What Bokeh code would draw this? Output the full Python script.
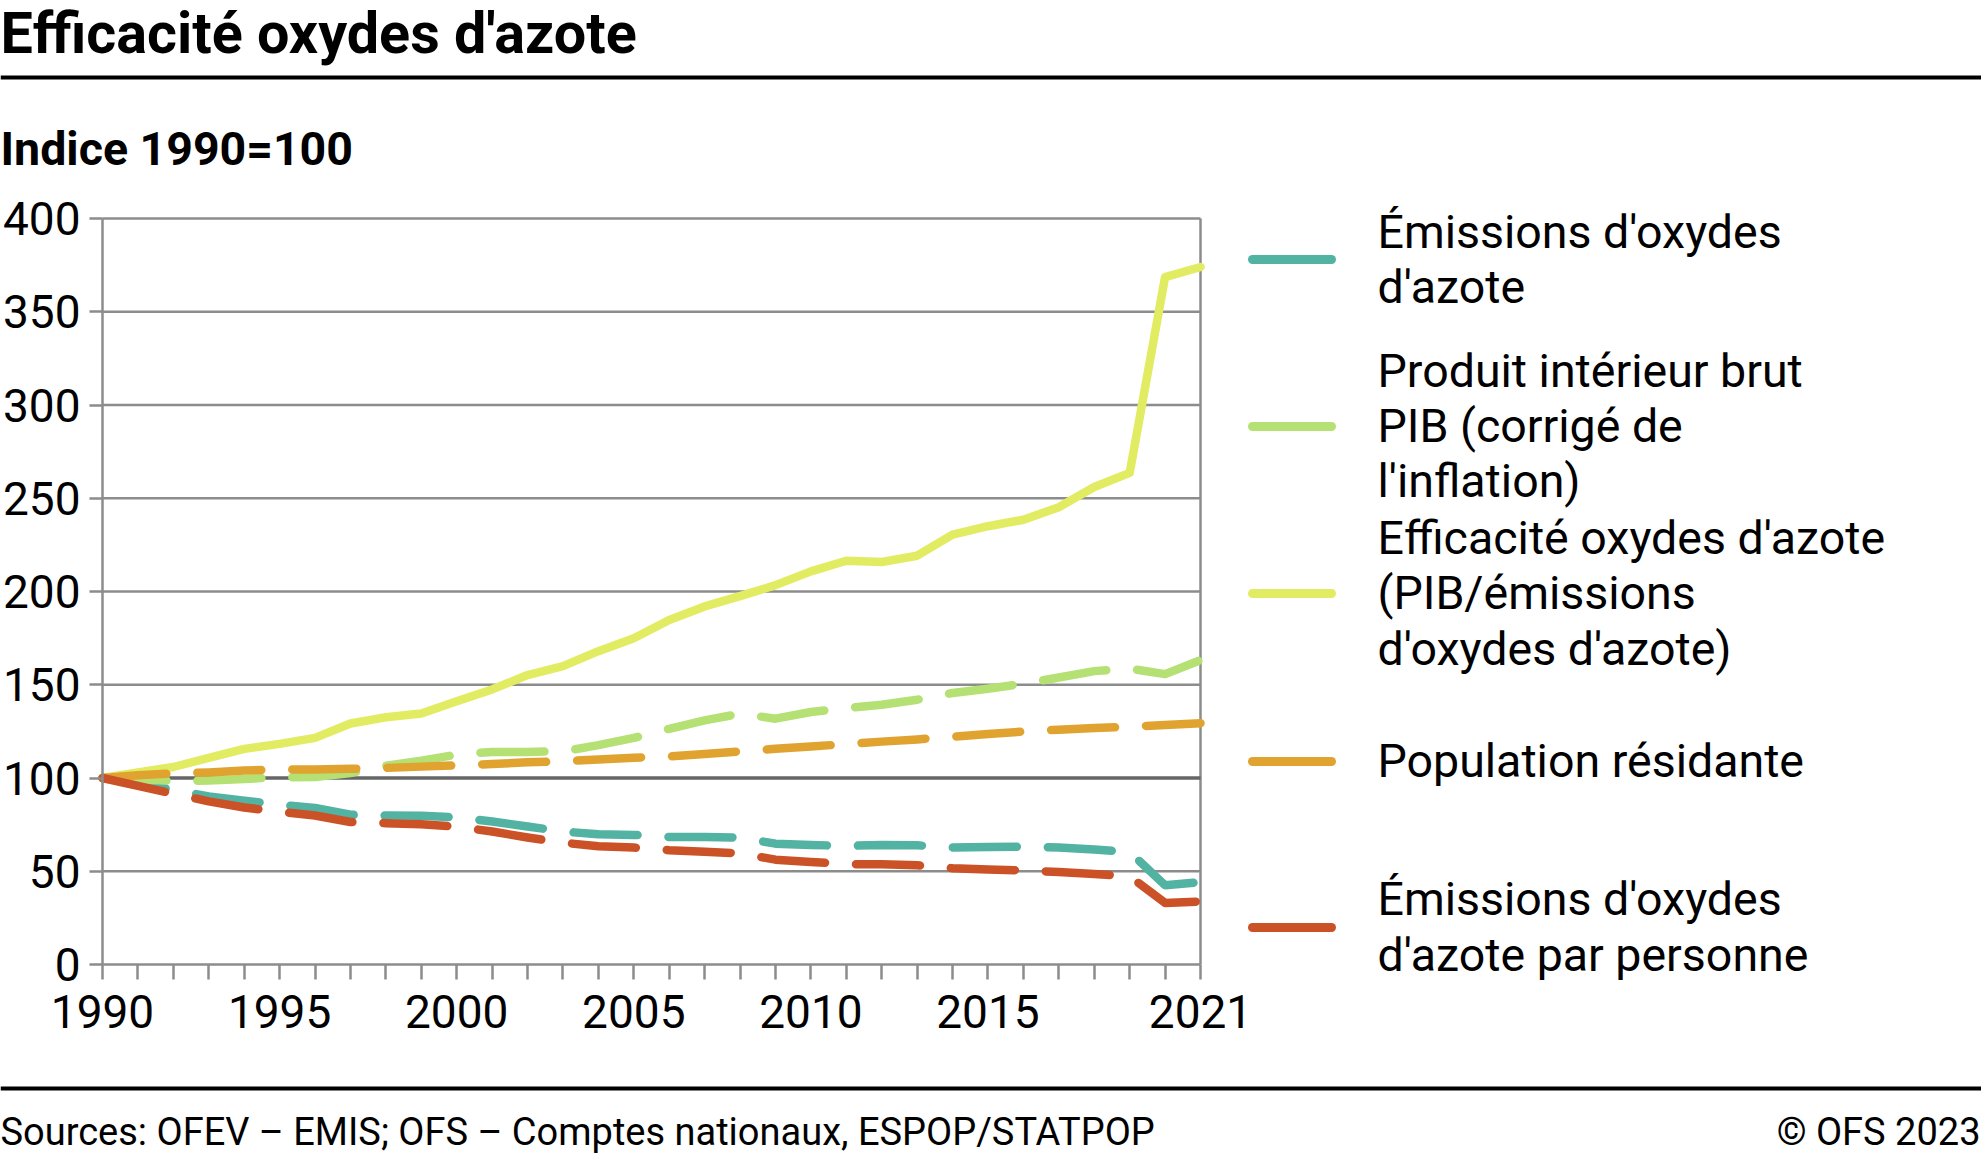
from bokeh.plotting import figure
from bokeh.models import FixedTicker, Range1d
from bokeh.core.properties import value
from bokeh.embed import file_html
from bokeh.resources import INLINE

years = list(range(1990, 2022))
emissions = [100, 97.0, 93.7, 90.1, 87.8, 85.7, 83.9, 80.3, 79.9, 79.7, 78.9, 76.7, 74.0, 71.3, 69.8, 69.5,
             68.4, 68.4, 68.0, 64.8, 64.1, 63.6, 64.1, 63.9, 62.7, 63.0, 63.2, 62.7, 61.6, 60.3, 42.5, 44.2]
pib = [100, 99.2, 98.5, 98.6, 99.5, 100.4, 100.5, 102.7, 106.6, 109.3, 112.5, 114.0, 114.0, 114.3, 117.6, 121.5,
       126.4, 130.9, 134.5, 131.8, 135.4, 137.5, 139.3, 142.0, 145.6, 147.9, 150.6, 153.9, 157.3, 158.7, 155.7, 163.2]
efficacite = [100, 103.0, 105.9, 110.8, 115.6, 118.3, 121.5, 129.2, 132.6, 134.6, 141.2, 147.5, 155.2, 160.0, 168.0, 174.9,
              184.7, 192.0, 197.5, 203.4, 210.8, 216.5, 215.8, 219.2, 230.5, 235.0, 238.5, 245.2, 256.0, 263.6, 368.6, 374.0]
population = [100, 101.5, 102.4, 103.0, 104.0, 104.5, 104.6, 104.9, 105.4, 106.1, 106.8, 107.5, 108.4, 109.0, 109.9, 110.9,
              111.6, 112.9, 114.2, 115.7, 116.9, 118.2, 119.5, 120.7, 122.1, 123.6, 124.9, 125.9, 126.8, 127.5, 128.4, 129.4]
par_personne = [100, 95.8, 91.6, 87.5, 84.2, 81.9, 79.9, 76.4, 75.8, 75.2, 73.9, 71.3, 68.1, 65.3, 63.4, 62.7,
                61.3, 60.5, 59.6, 56.2, 55.0, 53.8, 53.8, 53.2, 51.6, 51.0, 50.4, 49.6, 48.5, 47.3, 33.0, 33.8]

y_ticks = [0, 50, 100, 150, 200, 250, 300, 350, 400]
x_labels = {1990: "1990", 1995: "1995", 2000: "2000", 2005: "2005", 2010: "2010", 2015: "2015", 2021: "2021"}

title_text = "Efficacité oxydes d'azote"
subtitle_text = "Indice 1990=100"
source_text = "Sources: OFEV – EMIS; OFS – Comptes nationaux, ESPOP/STATPOP"
copyright_text = "© OFS 2023"

series_values = [emissions, pib, efficacite, population, par_personne]
series_colors = ["#52B3A2", "#B5E174", "#E2EC62", "#E1A330", "#CB5127"]
series_dashed = [True, True, False, True, True]
legend_lines = [["Émissions d'oxydes", "d'azote"],
                ["Produit intérieur brut", "PIB (corrigé de", "l'inflation)"],
                ["Efficacité oxydes d'azote", "(PIB/émissions", "d'oxydes d'azote)"],
                ["Population résidante"],
                ["Émissions d'oxydes", "d'azote par personne"]]

FONT = "Roboto"
GRAY = "#8C8C8C"
W, H = 1981, 1159

# plot-area placement on the page (pixels)
FRAME_L, FRAME_R, FRAME_T, FRAME_B = 102, 1200, 218, 964
XPX = (FRAME_R - FRAME_L) / (2021 - 1990)
YPX = (FRAME_B - FRAME_T) / 400.0
X_START = 1990 - FRAME_L / XPX
Y_TOP = FRAME_B / YPX

def dx(px):
    return X_START + px / XPX

def dy(py):
    return Y_TOP - py / YPX

p = figure(width=W, height=H, output_backend="svg", toolbar_location=None,
           x_range=Range1d(dx(0), dx(W)), y_range=Range1d(dy(H), dy(0)),
           min_border=0, min_border_left=0, min_border_right=0, min_border_top=0, min_border_bottom=0,
           background_fill_color="white", border_fill_color="white")
p.outline_line_color = None
p.grid.visible = False

# axes drawn at fixed data locations
p.xaxis.fixed_location = 0
p.yaxis.fixed_location = 1990
p.xaxis.bounds = (1990, 2021)
p.yaxis.bounds = (0, 400)
p.yaxis.ticker = FixedTicker(ticks=y_ticks)
p.xaxis.ticker = FixedTicker(ticks=years)
p.xaxis.major_label_overrides = {y: x_labels.get(y, "") for y in years}
for ax in (p.xaxis, p.yaxis):
    ax.axis_line_color = GRAY
    ax.axis_line_width = 2.5
    ax.major_tick_line_color = GRAY
    ax.major_tick_line_width = 2.5
    ax.major_tick_in = 0
    ax.minor_tick_line_color = None
    ax.major_label_text_font = FONT
    ax.major_label_text_font_size = "46px"
    ax.major_label_text_color = "black"
p.xaxis.major_tick_out = 15
p.xaxis.major_label_standoff = 15
p.yaxis.major_tick_out = 13
p.yaxis.major_label_standoff = 9

# horizontal grid lines and right border of the plot area
grid_vals = [t for t in y_ticks if t not in (0, 100)]
p.segment(x0=[1990] * len(grid_vals), x1=[2021] * len(grid_vals), y0=grid_vals, y1=grid_vals,
          line_color=GRAY, line_width=2.5, level="underlay")
p.segment(x0=[2021], x1=[2021], y0=[0], y1=[400], line_color=GRAY, line_width=2.5, level="underlay")
p.segment(x0=[1990], x1=[2021], y0=[100], y1=[100], line_color="#666666", line_width=3.5, level="underlay")

for vals, color, dashed in zip(series_values, series_colors, series_dashed):
    kw = dict(line_color=color, line_width=8.5, line_cap="round", line_join="round")
    if dashed:
        kw["line_dash"] = "64 31"
    p.line(years, vals, **kw)

def put_text(px, py_base, txt, size, bold=False, align="left"):
    mid = py_base - 0.345 * size
    p.text(x=[dx(px)], y=[dy(mid)], text=[txt], text_font=value(FONT), text_font_size=f"{size}px",
           text_font_style="bold" if bold else "normal", text_color="black",
           text_align=align, text_baseline="middle")

def put_rule(py0, py1):
    p.quad(left=[dx(0)], right=[dx(W)], top=[dy(py0)], bottom=[dy(py1)], fill_color="black", line_color=None)

# header
put_text(0, 53, title_text, 57.5, bold=True)
put_rule(75, 79)
put_text(0, 165, subtitle_text, 46.5, bold=True)

# legend
legend_icon_y = [259, 426, 593, 761, 927]
legend_baselines = [[248, 303], [387, 442, 497], [554, 609, 665], [777], [915, 971]]
for color, iy, lines, bls in zip(series_colors, legend_icon_y, legend_lines, legend_baselines):
    p.segment(x0=[dx(1252)], x1=[dx(1331)], y0=[dy(iy)], y1=[dy(iy)], line_color=color, line_width=9,
              line_cap="round")
    for ln, bl in zip(lines, bls):
        put_text(1377, bl, ln, 46.5)

# footer
put_rule(1086, 1090)
put_text(0, 1145, source_text, 38)
put_text(W - 1, 1145, copyright_text, 38, align="right")

open("out.html", "w").write(file_html(p, INLINE))
